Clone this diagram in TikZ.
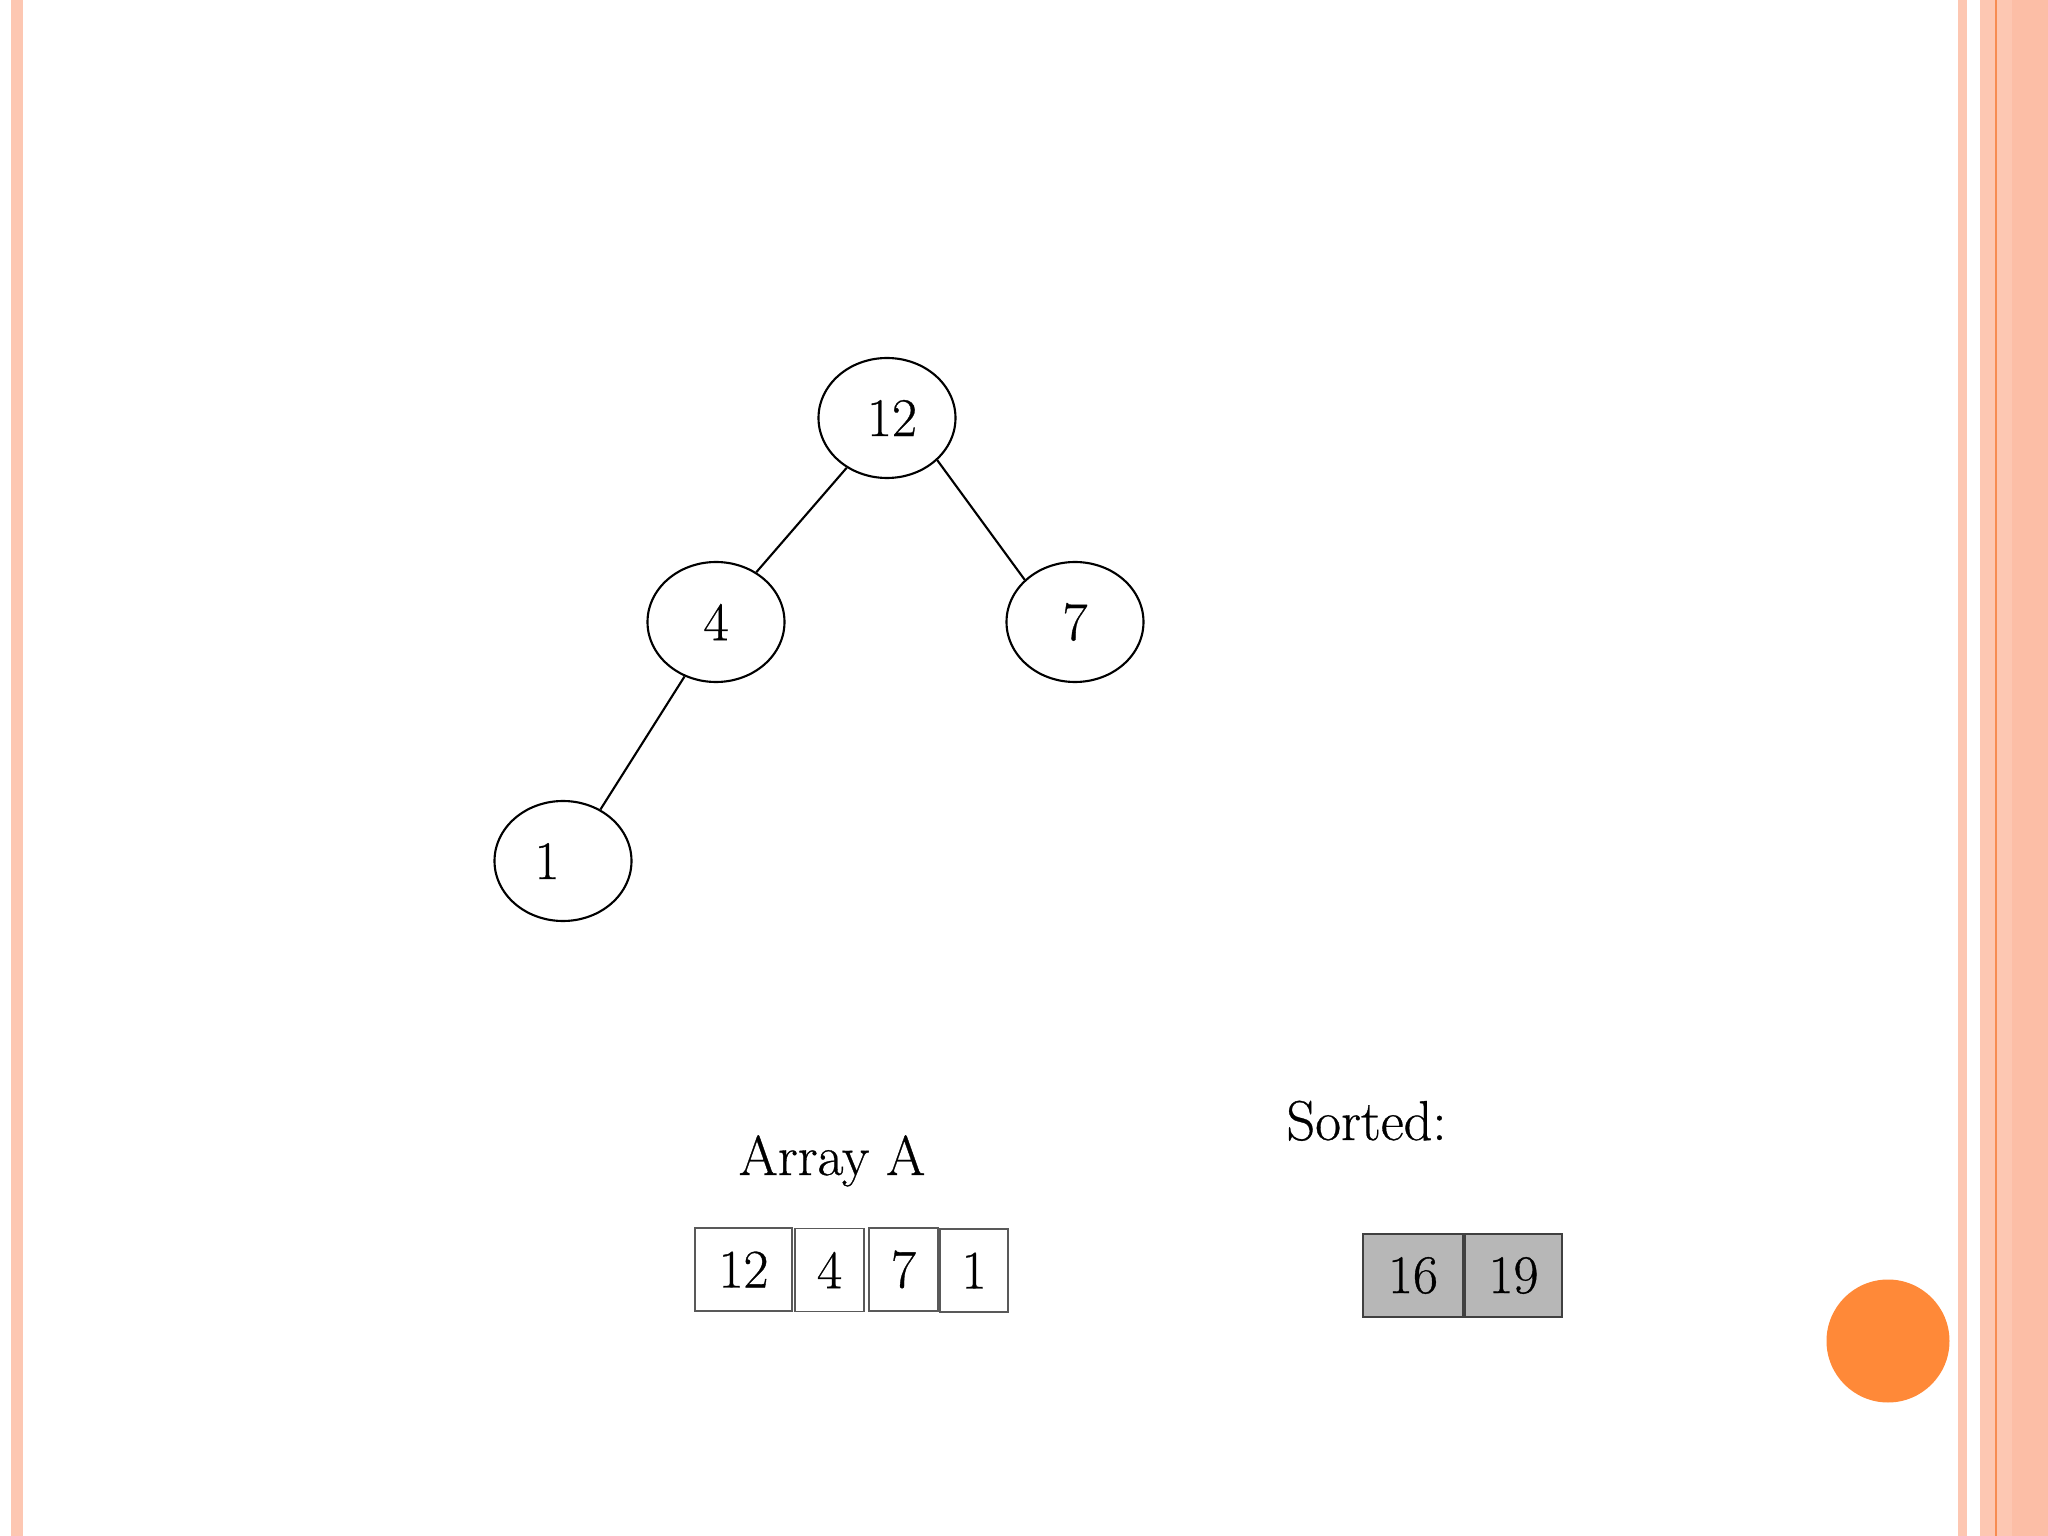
\documentclass[tikz,border=0pt]{standalone}
\usepackage{fontspec}
\setmainfont{Latin Modern Roman}[FakeBold=0.6]
\usetikzlibrary{shapes.geometric}
\definecolor{stripe}{RGB}{253,199,178}
\definecolor{stripedark}{RGB}{252,190,166}
\definecolor{stripeline}{RGB}{247,140,82}
\definecolor{dot}{RGB}{255,137,56}
\definecolor{cellgray}{RGB}{183,183,183}
\newcommand{\numfont}{\fontsize{15.5}{18}\selectfont}

\begin{document}
\begin{tikzpicture}[
    treenode/.style={
        draw,
        ellipse,
        line width=0.6pt,
        minimum width=1.37cm,
        minimum height=1.20cm,
        inner sep=0pt,
        font=\numfont
    },
    edge/.style={draw, line width=0.6pt},
    cell/.style={
        draw=black!65,
        line width=0.4pt,
        minimum height=0.83cm,
        inner sep=0pt,
        font=\numfont
    },
    sortedcell/.style={cell, draw=black!75, fill=cellgray},
    caption/.style={anchor=base, font=\fontsize{16}{19}\selectfont}
]
% Page frame
\useasboundingbox (0,0) rectangle (20.48,-15.36);
\fill[white] (0,0) rectangle (20.48,-15.36);
\fill[stripe] (0.11,0) rectangle (0.23,-15.36);
\fill[stripe] (19.58,0) rectangle (19.67,-15.36);
\fill[stripe] (19.80,0) rectangle (20.48,-15.36);
\fill[stripedark] (20.12,0) rectangle (20.48,-15.36);
\fill[stripeline] (19.95,0) rectangle (19.97,-15.36);
\fill[dot] (18.88,-13.41) circle (0.615cm);
% Tree
\node[treenode] (n12) at (8.87,-4.18) {\hspace*{0.1cm}12};
\node[treenode] (n4)  at (7.16,-6.22) {4};
\node[treenode] (n7)  at (10.75,-6.22) {7};
\node[treenode] (n1)  at (5.63,-8.61) {1\kern0.32cm};
\draw[edge] (n12.231) -- (n4.51);
\draw[edge] (n12.320) -- (n7.140);
\draw[edge] (n4.240) -- (n1.54);
% Array A
\node[caption] (arrlabel) at (8.32,-11.75) {Array A};
\node[cell, minimum width=0.97cm] (a1) at (7.435,-12.695) {12};
\node[cell, minimum width=0.69cm] (a2) at (8.295,-12.70) {4};
\node[cell, minimum width=0.69cm] (a3) at (9.035,-12.695) {7};
\node[cell, minimum width=0.68cm] (a4) at (9.74,-12.705) {1};
% Sorted part
\node[caption] (sortlabel) at (13.665,-11.40) {Sorted:};
\node[sortedcell, minimum width=1.00cm] (s1) at (14.13,-12.755) {16};
\node[sortedcell, minimum width=0.97cm] (s2) at (15.135,-12.755) {19};
\end{tikzpicture}
\end{document}
